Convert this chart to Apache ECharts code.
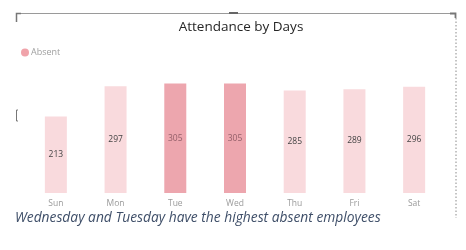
<!DOCTYPE html>
<html><head><meta charset="utf-8">
<script src="https://cdn.jsdelivr.net/npm/echarts@6/dist/echarts.min.js"></script>
<style>html,body{margin:0;padding:0;background:#fff}#c{width:466px;height:250px}</style>
</head><body><div id="c"></div>
<script>
const categories = ['Sun','Mon','Tue','Wed','Thu','Fri','Sat'];
const absentValues = [213, 297, 305, 305, 285, 289, 296];
const highlighted = ['Tue','Wed'];
const seriesName = 'Absent';
const titleText = 'Attendance by Days';
const captionText = 'Wednesday and Tuesday have the highest absent employees';

const chart = echarts.init(document.getElementById('c'), null, {renderer:'canvas'});
const data = absentValues.map((v,i)=>{
  const hi = highlighted.includes(categories[i]);
  return {
    value: v,
    itemStyle: {color: hi ? '#eda6ae' : '#f9dadd'},
    label: {color: hi ? '#94606a' : '#444'}
  };
});
chart.setOption({
  animation:false,
  title:{text:titleText, left:236, textAlign:'center', top:15,
    textStyle:{fontFamily:'Open Sans', fontSize:13.5, fontWeight:'normal', color:'#262626'}},
  legend:{data:[{name:seriesName, itemStyle:{color:'#f0a3aa'}}], left:16, top:43, icon:'circle', itemWidth:8, itemHeight:8, itemGap:4,
    textStyle:{fontFamily:'Open Sans', fontSize:9, color:'#a0a0a0', padding:[0,0,0,-3]}},
  grid:{left:26, right:22, top:78, bottom:57},
  xAxis:{type:'category', data:categories,
    axisLine:{show:false}, axisTick:{show:false},
    axisLabel:{fontFamily:'Open Sans', fontSize:8.5, color:'#9a9a9a', margin:6}},
  yAxis:{type:'value', min:0, max:320, show:false, splitLine:{show:false}},
  series:[{name:seriesName, type:'bar', barWidth:22, data:data,
    label:{show:true, position:'inside', fontFamily:'Open Sans', fontSize:8.5}}],
  graphic:[
    {type:'line', shape:{x1:16,y1:13.5,x2:454,y2:13.5}, style:{stroke:'#9a9a9a', lineWidth:1}},
    {type:'polyline', shape:{points:[[16.5,22],[16.5,13.5],[21,13.5]]}, style:{stroke:'#777', lineWidth:1.5, fill:null}},
    {type:'polyline', shape:{points:[[450,13.5],[455.5,13.5],[455.5,18]]}, style:{stroke:'#777', lineWidth:1.8, fill:null}},
    {type:'line', shape:{x1:229,y1:13,x2:238,y2:13}, style:{stroke:'#666', lineWidth:2}},
    {type:'line', shape:{x1:456,y1:18,x2:456,y2:218}, style:{stroke:'#8a8a8a', lineWidth:1, lineDash:[1.5,2]}},
    {type:'polyline', shape:{points:[[18,110],[16.5,110],[16.5,121],[18,121]]}, style:{stroke:'#777', lineWidth:1, fill:null}},
    {type:'text', left:15, top:211, style:{text:captionText, font:'italic 13.8px "Open Sans"', fill:'#3e4e68'}}
  ]
});
</script></body></html>
